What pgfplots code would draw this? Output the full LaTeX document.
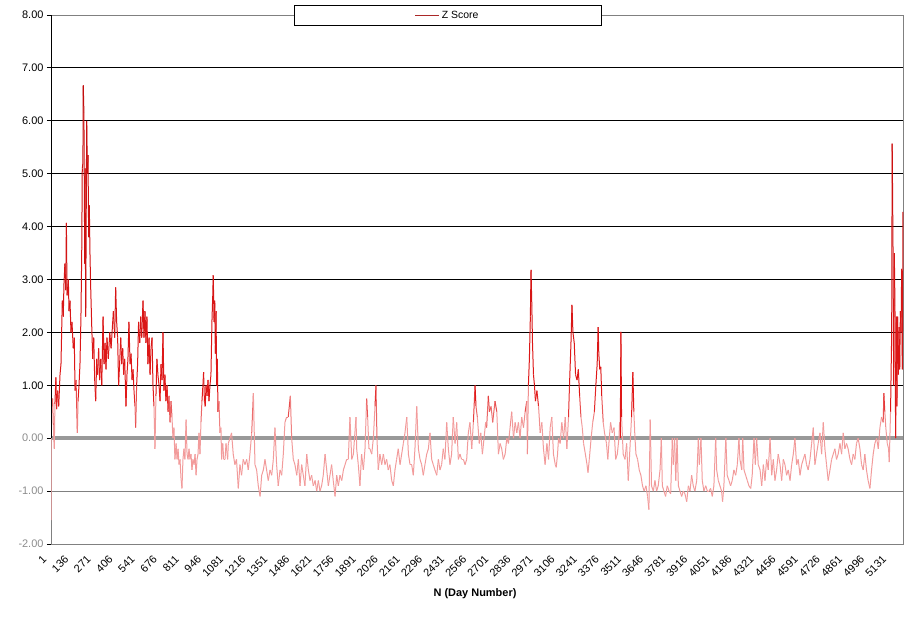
\documentclass[border=0pt]{standalone}
\usepackage{pgfplots}
\usepackage{pgfplotstable}
\pgfplotsset{compat=1.18}
\usepackage{fontspec}
\setmainfont{Liberation Sans}
\definecolor{axgray}{RGB}{128,128,128}
\definecolor{zgray}{RGB}{153,153,153}
\definecolor{lblgray}{RGB}{140,140,140}
\definecolor{legred}{RGB}{170,40,40}

\pgfplotstableread{
x y
1 -1.55
3 0.70
7 0.60
11 0.75
15 0.25
21 -0.20
25 0.65
31 1.15
35 0.55
42 0.90
48 0.60
56 1.20
62 1.40
70 2.60
76 2.30
80 2.90
86 3.30
91 2.80
95 4.07
99 2.70
107 3.00
111 2.40
117 2.60
123 2.00
129 2.20
137 1.70
143 1.90
148 0.90
154 1.10
162 0.10
166 0.70
172 1.00
178 1.40
184 2.30
189 3.60
192 5.10
196 5.20
198 6.67
202 6.15
207 3.30
209 5.10
213 2.30
219 6.00
223 5.00
227 5.35
231 3.80
235 4.40
239 3.50
243 2.90
250 2.10
256 1.50
262 1.90
268 1.10
274 0.70
280 1.50
286 1.20
292 1.70
298 1.10
305 1.50
311 1.00
319 2.30
325 1.40
331 1.80
337 1.30
343 1.90
351 1.50
360 2.00
368 1.70
376 2.10
382 2.40
390 1.90
396 2.85
402 2.20
408 1.90
414 1.00
420 1.40
427 1.90
433 1.40
439 1.70
445 1.20
451 1.50
459 0.60
465 1.20
471 1.50
477 2.20
484 1.40
490 1.60
496 1.10
502 1.30
508 0.90
514 0.60
518 0.20
524 1.00
530 1.40
536 2.20
543 1.80
549 2.30
555 1.90
563 2.60
569 1.90
575 2.40
581 1.80
587 2.30
593 1.40
600 1.90
606 1.20
612 1.70
618 1.90
624 1.00
630 0.60
636 -0.20
642 0.80
648 1.50
654 1.20
661 1.00
667 0.70
673 1.40
679 1.10
685 2.00
691 0.90
697 1.20
703 0.70
710 1.00
716 0.50
722 0.80
728 0.30
734 0.70
740 0.40
746 0.00
752 0.20
758 -0.40
765 -0.10
771 -0.40
777 -0.20
783 -0.50
789 -0.40
795 -0.75
801 -0.95
807 -0.40
813 -0.20
819 -0.40
826 0.35
832 -0.30
838 -0.40
844 -0.20
850 -0.40
856 -0.30
862 -0.60
868 -0.40
875 -0.50
881 -0.30
887 -0.70
893 -0.40
899 -0.30
905 0.10
911 -0.30
917 0.30
923 0.70
929 1.00
933 1.25
938 0.70
943 0.60
948 1.00
954 0.80
960 1.10
966 0.70
972 1.00
978 1.20
984 2.20
989 2.70
992 3.08
997 2.20
1001 2.60
1005 1.60
1009 2.40
1013 1.00
1017 1.50
1021 0.50
1027 0.70
1033 0.10
1039 0.20
1043 -0.40
1050 -0.10
1056 -0.40
1064 -0.40
1070 -0.10
1080 -0.40
1084 -0.10
1094 0.00
1104 0.10
1114 -0.30
1124 -0.50
1134 -0.40
1145 -0.95
1155 -0.50
1165 -0.70
1175 -0.40
1186 -0.50
1196 -0.40
1206 -0.60
1216 -0.30
1227 0.10
1237 0.85
1247 -0.50
1257 -0.60
1267 -0.90
1278 -1.10
1288 -0.70
1298 -0.60
1308 -0.40
1318 -0.60
1328 -0.80
1339 -0.60
1349 -0.70
1359 -0.40
1369 0.20
1379 -0.50
1389 -0.90
1400 -0.60
1410 -0.70
1420 -0.30
1430 0.30
1440 0.40
1450 0.40
1463 0.80
1471 0.00
1481 -0.40
1491 -0.50
1502 -0.70
1512 -0.40
1522 -0.90
1532 -0.50
1542 -0.70
1552 -0.90
1563 -0.30
1573 -0.60
1583 -0.80
1593 -0.70
1603 -0.90
1614 -0.80
1624 -1.00
1634 -0.80
1644 -1.00
1654 -0.90
1664 -0.70
1675 -0.30
1685 -0.60
1695 -0.90
1705 -0.70
1715 -0.50
1725 -0.80
1736 -1.10
1746 -0.70
1756 -0.90
1766 -0.70
1777 -0.80
1787 -0.60
1797 -0.50
1807 -0.40
1817 -0.40
1827 0.40
1838 -0.40
1848 -0.30
1864 0.40
1868 -0.20
1878 -0.50
1888 -0.90
1898 -0.30
1909 -0.60
1919 -0.20
1929 0.75
1935 0.40
1943 -0.20
1949 -0.20
1960 -0.30
1970 0.00
1980 0.60
1986 1.00
1992 0.00
2000 -0.60
2010 -0.30
2021 -0.50
2031 -0.30
2041 -0.50
2051 -0.40
2061 -0.60
2071 -0.50
2082 -0.80
2092 -0.90
2102 -0.60
2112 -0.40
2122 -0.20
2133 -0.50
2143 -0.30
2153 -0.10
2163 0.10
2174 0.40
2184 -0.30
2194 -0.50
2204 -0.50
2214 -0.70
2224 -0.20
2235 0.60
2245 -0.20
2255 -0.40
2265 -0.50
2275 -0.70
2285 -0.50
2296 -0.30
2306 -0.20
2316 0.10
2326 -0.40
2336 -0.50
2346 -0.60
2357 -0.70
2367 -0.40
2377 -0.60
2387 -0.50
2397 -0.20
2407 -0.40
2418 0.30
2428 -0.20
2438 -0.50
2448 -0.30
2458 0.40
2469 -0.10
2479 0.30
2489 -0.40
2499 -0.30
2509 -0.40
2520 -0.40
2530 -0.50
2540 -0.40
2550 0.10
2560 0.30
2571 -0.20
2581 0.30
2591 1.00
2597 0.60
2605 0.40
2617 -0.10
2626 0.10
2636 -0.30
2646 0.00
2656 0.30
2662 0.20
2672 0.80
2679 0.50
2689 0.60
2699 0.30
2713 0.70
2724 0.50
2734 -0.30
2744 -0.10
2754 -0.20
2764 -0.40
2775 -0.30
2785 0.00
2795 -0.10
2805 0.20
2815 0.50
2826 0.00
2836 0.30
2846 0.10
2856 0.30
2866 0.00
2876 0.40
2887 0.20
2897 0.50
2907 0.70
2911 -0.30
2917 1.00
2923 1.50
2929 2.30
2933 3.18
2938 2.50
2942 1.80
2948 1.20
2954 1.00
2960 0.70
2969 0.90
2979 0.60
2989 0.10
2999 0.30
3009 -0.20
3019 -0.50
3030 -0.10
3040 -0.40
3050 0.20
3060 0.40
3070 -0.30
3081 -0.50
3087 -0.55
3095 -0.30
3101 0.00
3111 -0.10
3121 0.30
3132 0.00
3142 0.40
3152 -0.20
3162 0.40
3168 1.00
3177 1.80
3183 2.52
3189 2.00
3197 1.80
3205 1.20
3214 1.10
3222 1.30
3230 0.80
3238 0.40
3246 0.20
3254 -0.10
3265 -0.30
3275 -0.50
3281 -0.65
3289 -0.40
3300 0.00
3310 0.30
3320 0.50
3329 1.00
3337 1.40
3343 2.10
3347 1.60
3353 1.30
3359 1.35
3365 0.80
3374 0.30
3382 0.10
3394 -0.10
3402 -0.40
3411 0.00
3419 0.30
3429 0.10
3440 0.20
3450 -0.40
3460 -0.30
3470 0.00
3474 0.30
3478 0.00
3482 2.01
3486 0.40
3496 -0.30
3507 -0.40
3517 -0.10
3527 -0.80
3537 -0.20
3547 0.40
3555 1.25
3561 0.50
3568 0.00
3574 -0.30
3584 -0.40
3594 -0.60
3604 -0.70
3614 -0.90
3624 -1.00
3635 -0.90
3645 -1.10
3653 -1.35
3661 0.35
3669 -0.90
3680 -1.00
3690 -0.80
3700 -1.00
3710 -0.90
3721 -0.60
3729 0.00
3735 -0.90
3745 -1.00
3755 -1.10
3765 -0.90
3776 -1.00
3786 -1.05
3796 0.00
3802 -0.50
3810 0.00
3817 -0.80
3825 0.00
3833 -0.90
3843 -1.00
3853 -1.10
3863 -1.00
3873 -1.05
3884 -1.20
3894 -0.90
3904 -1.00
3914 -0.70
3924 -0.90
3934 -1.00
3945 -0.80
3955 0.00
3961 -0.50
3971 0.00
3979 -0.80
3989 -1.00
4000 -0.90
4010 -1.00
4020 -1.00
4030 -0.95
4040 -1.10
4050 -0.90
4061 0.00
4067 -0.60
4077 -0.80
4087 -0.90
4097 -1.00
4103 -1.20
4111 -0.90
4123 0.00
4131 -0.70
4142 -0.80
4152 -0.90
4162 -0.80
4172 -0.60
4183 -0.70
4193 -0.50
4203 0.00
4209 -0.40
4220 -0.60
4226 0.00
4234 -0.60
4244 -0.70
4254 -0.80
4264 -0.90
4275 -0.95
4284 -0.70
4295 0.00
4303 -0.50
4311 0.00
4321 -0.50
4332 -0.60
4342 -0.90
4352 -0.50
4362 -0.80
4372 -0.40
4382 -0.60
4393 0.00
4403 -0.70
4413 -0.40
4423 -0.80
4433 -0.60
4443 -0.30
4454 -0.50
4464 -0.80
4474 -0.40
4484 -0.50
4494 -0.70
4504 -0.60
4515 -0.80
4525 -0.50
4535 -0.30
4545 0.00
4555 -0.50
4565 -0.40
4576 -0.70
4586 -0.50
4596 -0.40
4606 -0.30
4616 -0.50
4626 -0.60
4637 -0.40
4647 -0.10
4657 0.20
4667 -0.50
4677 -0.30
4687 -0.10
4698 0.10
4708 -0.30
4718 0.30
4728 -0.20
4738 -0.50
4748 -0.80
4759 -0.60
4769 -0.40
4779 -0.30
4789 -0.20
4799 -0.40
4809 -0.30
4820 -0.10
4830 -0.30
4840 0.10
4850 -0.20
4860 -0.10
4870 -0.20
4881 -0.40
4891 -0.50
4901 -0.30
4911 -0.40
4921 -0.10
4931 0.00
4942 -0.20
4952 -0.50
4962 -0.60
4972 -0.30
4982 -0.60
4992 -0.80
5003 -0.95
5013 -0.60
5023 -0.30
5033 -0.10
5044 0.00
5054 -0.20
5064 0.20
5074 0.40
5084 0.30
5088 0.85
5094 0.50
5100 0.20
5109 -0.10
5117 -0.20
5121 -0.45
5129 0.50
5136 2.00
5139 5.57
5144 3.60
5148 1.00
5152 3.50
5156 2.50
5160 0.00
5164 2.30
5168 0.60
5172 2.30
5176 1.20
5181 2.10
5185 1.30
5189 2.40
5193 2.00
5197 3.20
5201 1.30
5205 4.28
}\zdata

\begin{document}
\begin{tikzpicture}
\useasboundingbox (-51bp,-79bp) rectangle (857bp,544bp);
\begin{axis}[
  scale only axis, width=852.3bp, height=529bp,
  at={(0,0)}, anchor=south west,
  xmin=1, xmax=5207, ymin=-2, ymax=8,
  axis line style={draw=axgray, line width=0.9bp},
  xtick={1,136,...,5131},
  xticklabels={1,136,271,406,541,676,811,946,1081,1216,1351,1486,1621,1756,1891,2026,2161,2296,2431,2566,2701,2836,2971,3106,3241,3376,3511,3646,3781,3916,4051,4186,4321,4456,4591,4726,4861,4996,5131},
  xtick style={draw=none},
  ytick={-2,-1,...,8},
  yticklabels={\textcolor{lblgray}{-2.00},\textcolor{lblgray}{-1.00},\textcolor{lblgray}{0.00},1.00,2.00,3.00,4.00,5.00,6.00,7.00,8.00},
  ytick pos=left, tick align=outside, major tick length=4bp,
  ytick style={black, line width=0.8bp},
  tick label style={font=\fontsize{11}{13}\selectfont},
  xticklabel style={xshift=-4bp, yshift=-7bp, rotate=45, anchor=east},
  xlabel={N (Day Number)},
  xlabel style={at={(axis description cs:0.4975,0)}, anchor=center, yshift=-50bp, font=\fontsize{11}{13}\selectfont\bfseries},
  legend style={at={(axis description cs:0.4655,0.999)}, anchor=center, draw=black, line width=0.8bp, fill=white, font=\fontsize{10.5}{12}\selectfont, inner xsep=121bp, inner ysep=3.5bp},
  legend image code/.code={\draw[#1] (0bp,0bp) -- (24bp,0bp);},
  colormap={zmap}{rgb255(0cm)=(242,155,155) rgb255(2.3cm)=(242,155,155) rgb255(2.8cm)=(225,25,25) rgb255(10cm)=(185,10,10)},
  point meta min=-2, point meta max=8,
]
\draw[zgray, line width=4bp] (axis cs:1,0) -- (axis cs:5207,0);
\draw[axgray, line width=0.9bp] (axis cs:1,-1) -- (axis cs:5207,-1);
\draw[black, line width=0.9bp] (axis cs:1,1) -- (axis cs:5207,1);
\draw[black, line width=0.9bp] (axis cs:1,2) -- (axis cs:5207,2);
\draw[black, line width=0.9bp] (axis cs:1,3) -- (axis cs:5207,3);
\draw[black, line width=0.9bp] (axis cs:1,4) -- (axis cs:5207,4);
\draw[black, line width=0.9bp] (axis cs:1,5) -- (axis cs:5207,5);
\draw[black, line width=0.9bp] (axis cs:1,6) -- (axis cs:5207,6);
\draw[black, line width=0.9bp] (axis cs:1,7) -- (axis cs:5207,7);
\addplot[mesh, shader=flat mean, point meta=y, line width=1.0bp, forget plot] table[x=x, y=y] {\zdata};
\draw[black, line width=0.9bp] (axis cs:1,0) -- (axis cs:1,8);
\addlegendimage{legred, line width=0.9bp}
\addlegendentry{Z Score}
\end{axis}
\end{tikzpicture}
\end{document}
